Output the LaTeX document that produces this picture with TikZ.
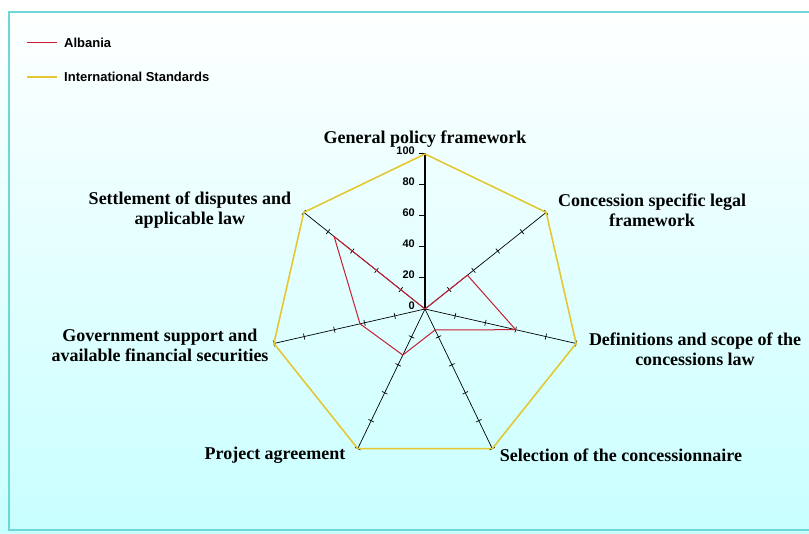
\documentclass[tikz,border=0pt]{standalone}
\usepackage{fontspec}
\setmainfont{Liberation Serif}
\newfontfamily\chartsans{Liberation Sans}
\usetikzlibrary{calc, positioning}

\definecolor{albred}{RGB}{200,30,50}
\definecolor{stdgold}{RGB}{228,200,50}
\definecolor{framecyan}{RGB}{110,215,215}
\definecolor{bgcyan}{RGB}{200,255,255}

\begin{document}
\begin{tikzpicture}[
        x=1pt, y=1pt,
        axislabel/.style={font=\fontsize{18}{20}\selectfont\bfseries, align=center, inner sep=0pt},
        legendtext/.style={font=\chartsans\fontsize{13}{14}\selectfont\bfseries, anchor=west, inner sep=0pt},
        ticklabel/.style={font=\chartsans\fontsize{11}{12}\selectfont\bfseries, anchor=east, inner sep=0pt},
        spoke/.style={black, line width=0.7pt},
        albania/.style={albred, line width=1pt, line join=round},
        standard/.style={stdgold, line width=1.6pt, line join=round}
        ]

        \useasboundingbox (0,0) rectangle (809,534);

        % Background and frame
        \shade[top color=white, bottom color=bgcyan] (0,0) rectangle (809,534);
        \draw[framecyan, line width=2pt] (9,4) rectangle (815,522);

        % Centre and outer vertices
        \coordinate (O) at (425,225);
        \foreach \k [evaluate=\k as \a using 90-\k*360/7] in {0,...,6}
            \coordinate (V\k) at ($(O)+(\a:155pt)$);

        % Albania values
        \foreach \k/\v in {0/0,1/35,2/60,3/15,4/33,5/43,6/75}
            \coordinate (D\k) at ($(O)!\v/100!(V\k)$);

        % Spokes
        \draw[spoke, line width=1.2pt] (O) -- (V0);
        \foreach \k in {1,...,6}
            \draw[spoke] (O) -- (V\k);

        % Tick marks
        \foreach \k [evaluate=\k as \a using 90-\k*360/7] in {1,...,6}
            \foreach \j in {1,...,5}
                \draw[spoke] ($(O)!\j/5!(V\k)$) ++(\a+90:3pt) -- ++(\a-90:6pt);

        % Scale on the top spoke
        \foreach \j in {20,40,...,100}
            \draw[spoke, line width=1pt] ($(O)!\j/100!(V0)$) ++(-6,0) -- ++(7,0);
        \foreach \j in {0,20,...,100}
            \node[ticklabel] (T\j) at ($(O)!\j/100!(V0)+(-10,3)$) {\j};

        % International standards
        \draw[standard] (V0) -- (V1) -- (V2) -- (V3) -- (V4) -- (V5) -- (V6) -- cycle;

        % Albania
        \draw[albania] (D0) -- (D1) -- (D2) -- (D3) -- (D4) -- (D5) -- (D6) -- cycle;

        % Axis labels
        \node[axislabel] (L0) at (425,395) {General policy framework};
        \node[axislabel] (L1) at (652,324) {Concession specific legal\\framework};
        \node[axislabel] (L2) at (695,185) {Definitions and scope of the\\concessions law};
        \node[axislabel] (L3) at (621,79) {Selection of the concessionnaire};
        \node[axislabel] (L4) at (275,79) {Project agreement};
        \node[axislabel] (L5) at (160,189) {Government support and\\available financial securities};
        \node[axislabel] (L6) at (190,324) {Settlement of disputes and\\applicable law};

        % Legend
        \coordinate (la) at (27,491);
        \coordinate (lb) at (57,491);
        \coordinate (sa) at (27,457);
        \coordinate (sb) at (57,457);
        \draw[albania] (la) -- (lb);
        \draw[standard] (sa) -- (sb);
        \node[legendtext, right=7pt of lb] (albania) {Albania};
        \node[legendtext, right=7pt of sb] (intstd) {International Standards};

\end{tikzpicture}
\end{document}
